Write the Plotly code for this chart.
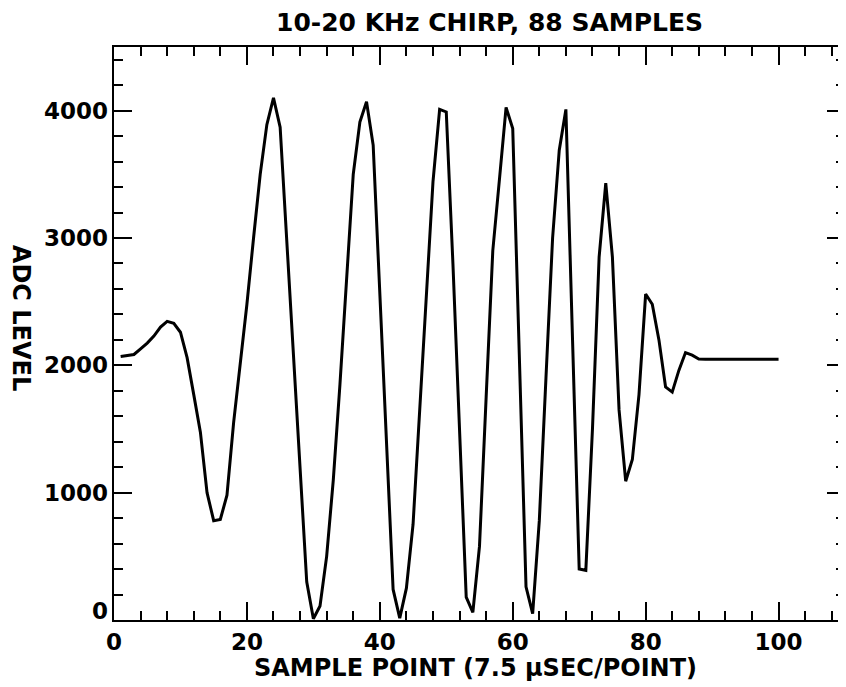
import plotly.graph_objects as go

# Sample index (x) and ADC level (y)
sample_points = list(range(1, 101))
adc_chirp = [
    2070, 2075, 2085, 2130, 2175, 2230, 2300, 2345, 2330, 2260,   # 1-10
    2060, 1770, 1475, 1000, 780, 790, 980, 1550, 2000, 2480,      # 11-20
    3000, 3500, 3890, 4100, 3870, 2980, 2090, 1200, 300, 10,      # 21-30
    110, 500, 1100, 1850, 2650, 3500, 3910, 4070, 3730, 2600,     # 31-40
    1450, 240, 15, 250, 750, 1650, 2550, 3440, 4010, 3990,        # 41-50
    2800, 1450, 180, 60, 580, 1750, 2900, 3460, 4025, 3860,       # 51-60
    2050, 260, 50, 780, 1900, 3000, 3690, 4010, 2200, 400,        # 61-70
    390, 1500, 2850, 3430, 2850, 1650, 1090, 1260, 1770, 2560,    # 71-80
    2480, 2200, 1830, 1790, 1960, 2100, 2080, 2050,               # 81-88
]
adc_pad = [2048] * 12                                              # 89-100
adc_level = adc_chirp + adc_pad

x_tick_vals = [0, 20, 40, 60, 80, 100]
y_tick_vals = [0, 1000, 2000, 3000, 4000]

title_text = "10-20 KHz CHIRP, 88 SAMPLES"
x_title = "SAMPLE POINT (7.5 µSEC/POINT)"
y_title = "ADC LEVEL"

FONT = "DejaVu Sans"
TICK_FONT = dict(family=FONT, size=23, color="black", weight="bold")

fig = go.Figure()
fig.add_trace(go.Scatter(
    x=sample_points, y=adc_level, mode="lines",
    line=dict(color="black", width=3, shape="linear"),
    showlegend=False, hoverinfo="skip",
))

axis_common = dict(
    showline=True, linecolor="black", linewidth=2, mirror="allticks",
    ticks="inside", tickcolor="black", tickwidth=2, ticklen=18,
    showgrid=False, zeroline=False, automargin=False,
    tickfont=TICK_FONT,
)

fig.update_xaxes(
    range=[0, 110], tickmode="array", tickvals=x_tick_vals,
    ticktext=[str(v) for v in x_tick_vals],
    minor=dict(ticks="inside", ticklen=9, tickwidth=2, tickcolor="black",
               dtick=4, tick0=0, showgrid=False),
    **axis_common,
)
# y tick labels sit very close to the axis in the reference, so they are
# drawn as annotations placed at the tick values
fig.update_yaxes(
    range=[0, 4500], tickmode="array", tickvals=y_tick_vals,
    showticklabels=False,
    minor=dict(ticks="inside", ticklen=9, tickwidth=2, tickcolor="black",
               dtick=200, tick0=0, showgrid=False),
    **axis_common,
)

y_label_annotations = [
    dict(text=str(v), xref="paper", yref="y", x=0, y=v,
         xanchor="right", yanchor="middle", xshift=-4,
         yshift=(9 if v == 0 else 0),
         showarrow=False, font=TICK_FONT)
    for v in y_tick_vals
]

# The page body adds an offset, so margins are set to compensate.
fig.update_layout(
    width=846, height=687,
    margin=dict(l=106, r=9, t=39, b=75, autoexpand=False),
    paper_bgcolor="white", plot_bgcolor="white",
    annotations=[
        dict(text=title_text, xref="paper", yref="paper", x=0.513, y=1.0436,
             showarrow=False, xanchor="center", yanchor="middle",
             font=dict(family=FONT, size=25, color="black", weight="bold")),
        dict(text=x_title, xref="paper", yref="paper", x=0.494, y=-0.083,
             showarrow=False, xanchor="center", yanchor="middle",
             font=dict(family=FONT, size=24, color="black", weight="bold")),
        dict(text=y_title, xref="paper", yref="paper", x=-0.127, y=0.527,
             showarrow=False, xanchor="center", yanchor="middle", textangle=90,
             font=dict(family=FONT, size=24, color="black", weight="bold")),
    ] + y_label_annotations,
)

fig.write_html("out.html")
